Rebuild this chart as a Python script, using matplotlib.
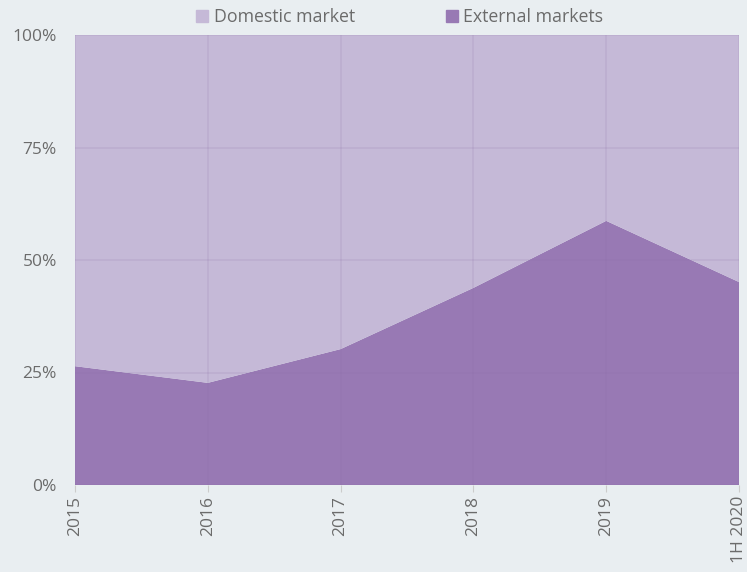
import matplotlib
matplotlib.use("Agg")
import matplotlib.pyplot as plt
from matplotlib.patches import Patch
import numpy as np

categories = ["2015", "2016", "2017", "2018", "2019", "1H 2020"]
external = [26.4, 22.7, 30.2, 43.8, 58.7, 45.1]
domestic = [100 - v for v in external]
yticks = [0, 25, 50, 75, 100]
ytick_labels = ["0%", "25%", "50%", "75%", "100%"]

bg = "#E9EEF1"
c_dom = "#C5B9D7"
c_ext = "#9879B4"
txt = "#6b6b6b"

plt.rcParams['font.family'] = ['Open Sans', 'DejaVu Sans']

fig = plt.figure(figsize=(7.47, 5.72), dpi=100, facecolor=bg)
ax = fig.add_axes([75/747, 1 - 485/572, (739-75)/747, (485-35)/572])
ax.set_facecolor(bg)

x = np.arange(len(categories))
ax.stackplot(x, external, domestic, colors=[c_ext, c_dom], linewidth=0)

ax.set_xlim(0, len(categories) - 1)
ax.set_ylim(0, 100)
ax.set_yticks(yticks)
ax.set_yticklabels(ytick_labels)
ax.set_xticks(x)
ax.set_xticklabels(categories, rotation=90)
ax.grid(True, color="#8a6fa8", alpha=0.15, linewidth=1.3)
ax.set_axisbelow(False)
for s in ax.spines.values():
    s.set_visible(False)
ax.tick_params(axis='y', length=0, pad=13, labelsize=12.5, labelcolor=txt)
ax.tick_params(axis='x', length=5, color="#cccccc", pad=3, labelsize=12.5, labelcolor=txt)

handles = [Patch(color=c_dom, label="Domestic market"), Patch(color=c_ext, label="External markets")]
fig.legend(handles=handles, loc="upper center", bbox_to_anchor=(0.535, 1.014), ncol=2,
           frameon=False, fontsize=12.8, labelcolor=txt, handlelength=0.7, handleheight=0.7,
           handletextpad=0.3, columnspacing=5.1)

fig.savefig("out.png", dpi=100, facecolor=bg)
